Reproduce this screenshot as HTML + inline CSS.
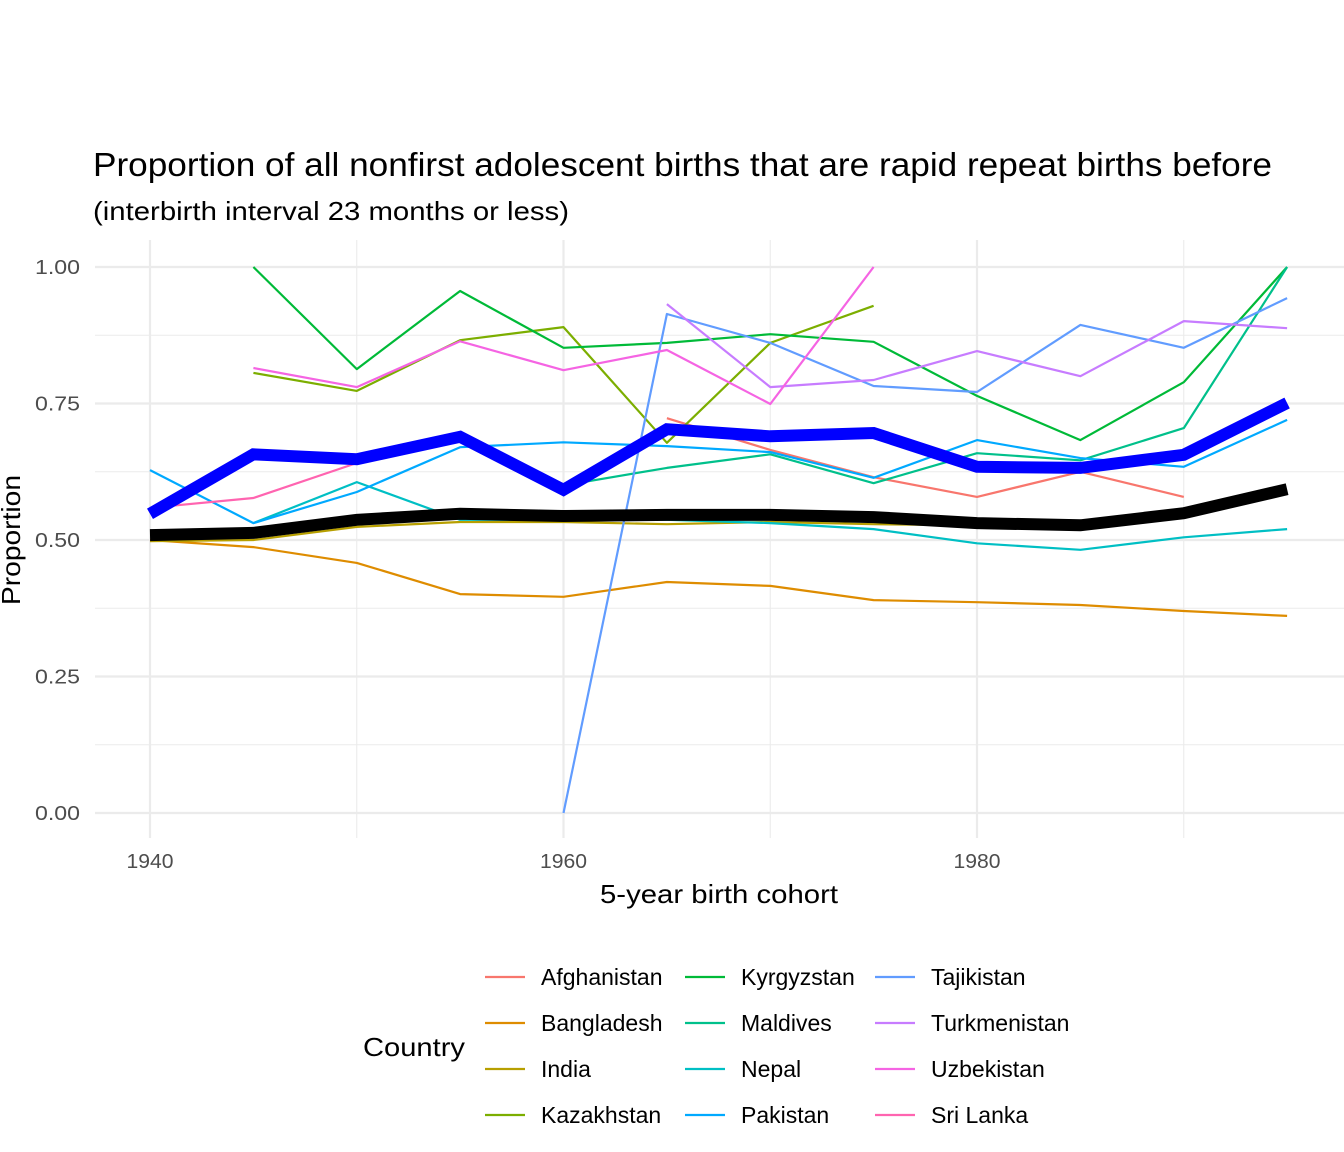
<!DOCTYPE html>
<html><head><meta charset="utf-8"><style>
body{margin:0;background:#fff;}
svg{display:block;font-family:"Liberation Sans",Arial,sans-serif;}
</style></head><body>
<svg id="chart" width="1344" height="1152">
<text x="93" y="176" font-size="33" textLength="1179" lengthAdjust="spacingAndGlyphs" fill="#000">Proportion of all nonfirst adolescent births that are rapid repeat births before</text>
<text x="93" y="220" font-size="26" textLength="476" lengthAdjust="spacingAndGlyphs" fill="#000">(interbirth interval 23 months or less)</text>
<g id="grid"></g>
<g id="series"></g>
<g id="axes"></g>
<text x="600" y="903" font-size="26" textLength="238" lengthAdjust="spacingAndGlyphs">5-year birth cohort</text>
<text transform="translate(20,605) rotate(-90)" font-size="26" textLength="130" lengthAdjust="spacingAndGlyphs">Proportion</text>
<g id="legend">
<text x="363" y="1056" font-size="26" textLength="102" lengthAdjust="spacingAndGlyphs">Country</text>
</g>
</svg>
<script>
const cohorts=[1940,1945,1950,1955,1960,1965,1970,1975,1980,1985,1990,1995];
const countries=["Afghanistan","Bangladesh","India","Kazakhstan","Kyrgyzstan","Maldives","Nepal","Pakistan","Tajikistan","Turkmenistan","Uzbekistan","Sri Lanka"];
const colors=["#F8766D","#DE8C00","#B79F00","#7CAE00","#00BA38","#00C08B","#00BFC4","#00A9FF","#619CFF","#C77CFF","#F564E3","#FF64B0"];
const afghanistan=[null,null,null,null,null,0.723,0.665,0.615,0.579,0.625,0.579,null];
const bangladesh=[0.500,0.487,0.458,0.401,0.396,0.423,0.416,0.390,0.386,0.381,0.370,0.361];
const india=[0.498,0.500,0.524,0.533,0.533,0.529,0.533,0.529,0.527,0.522,0.545,0.590];
const kazakhstan=[null,0.806,0.773,0.866,0.890,0.678,0.861,0.929,null,null,null,null];
const kyrgyzstan=[null,1.0,0.813,0.956,0.852,0.861,0.877,0.863,0.764,0.683,0.789,1.0];
const maldives=[null,null,null,null,0.600,0.632,0.657,0.604,0.659,0.646,0.705,1.0];
const nepal=[null,0.531,0.606,0.537,0.537,0.537,0.531,0.520,0.494,0.482,0.505,0.520];
const pakistan=[0.628,0.531,0.588,0.670,0.679,0.672,0.661,0.614,0.683,0.650,0.634,0.720];
const tajikistan=[null,null,null,null,0.0,0.914,0.861,0.782,0.771,0.894,0.852,0.943];
const turkmenistan=[null,null,null,null,null,0.932,0.780,0.793,0.846,0.800,0.901,0.888];
const uzbekistan=[null,0.815,0.780,0.864,0.811,0.848,0.749,1.0,null,null,null,null];
const srilanka=[0.559,0.577,0.641,null,null,null,null,null,null,null,null,null];
const regionMean=[0.548,0.657,0.648,0.689,0.592,0.703,0.690,0.696,0.634,0.632,0.656,0.751];
const overallMean=[0.509,0.513,0.537,0.548,0.544,0.546,0.546,0.542,0.531,0.527,0.549,0.593];
const yTicks=[0,0.25,0.5,0.75,1.0];
const yTickLabels=["0.00","0.25","0.50","0.75","1.00"];
const xTicks=[1940,1960,1980];
const xMinor=[1950,1970,1990];
const seriesData=[afghanistan,bangladesh,india,kazakhstan,kyrgyzstan,maldives,nepal,pakistan,tajikistan,turkmenistan,uzbekistan,srilanka];

const NS="http://www.w3.org/2000/svg";
const X=v=>150+(v-1940)*(977-150)/40;
const Y=v=>813-v*546;
function mk(tag,attrs,parent){const e=document.createElementNS(NS,tag);for(const k in attrs)e.setAttribute(k,attrs[k]);parent.appendChild(e);return e;}
const grid=document.getElementById('grid');
const L=95,R=1344,T=240,B=838;
yTicks.forEach((t,i)=>{
  if(i<yTicks.length-1){const m=(t+yTicks[i+1])/2;const g=mk('line',{x1:L,x2:R,y1:Y(m),y2:Y(m),stroke:'#EBEBEB','stroke-width':1.1},grid);
  
  }
  const l=mk('line',{x1:L,x2:R,y1:Y(t),y2:Y(t),stroke:'#EBEBEB','stroke-width':2.2},grid);
  
  
});
xMinor.forEach(t=>{const g=mk('line',{x1:X(t),x2:X(t),y1:T,y2:B,stroke:'#EBEBEB','stroke-width':1.1},grid);
  
  });
xTicks.forEach(t=>{const g=mk('line',{x1:X(t),x2:X(t),y1:T,y2:B,stroke:'#EBEBEB','stroke-width':2.2},grid);
  
  });
const axes=document.getElementById('axes');
yTicks.forEach((t,i)=>{const e=mk('text',{x:35,y:Y(t)+7,'font-size':20,fill:'#4D4D4D',textLength:45,lengthAdjust:'spacingAndGlyphs'},axes);e.textContent=yTickLabels[i];
  
  });
xTicks.forEach(t=>{const e=mk('text',{x:X(t)-23.5,y:868,'font-size':20,fill:'#4D4D4D',textLength:47,lengthAdjust:'spacingAndGlyphs'},axes);e.textContent=String(t);
  
  });
function pathFor(arr){let d='';let pen=false;arr.forEach((v,i)=>{if(v===null){pen=false;return;}d+=(pen?'L':'M')+X(cohorts[i]).toFixed(1)+','+Y(v).toFixed(1);pen=true;});return d;}
const sg=document.getElementById('series');
seriesData.forEach((arr,i)=>{const p=mk('path',{d:pathFor(arr),fill:'none',stroke:colors[i],'stroke-width':2.2,'stroke-linejoin':'round'},sg);
  
  });
const pm=mk('path',{d:pathFor(overallMean),fill:'none',stroke:'#000','stroke-width':12},sg);


const pr=mk('path',{d:pathFor(regionMean),fill:'none',stroke:'#0000FF','stroke-width':12},sg);


const lg=document.getElementById('legend');
const colX=[485,685,875];const rowY=[977,1023,1069,1115];
countries.forEach((c,i)=>{const col=Math.floor(i/4),row=i%4;
  const k=mk('line',{x1:colX[col],x2:colX[col]+40,y1:rowY[row],y2:rowY[row],stroke:colors[i],'stroke-width':2.2},lg);
  
  
  const t=mk('text',{x:colX[col]+56,y:rowY[row]+8,'font-size':23},lg);t.textContent=c;
  
  });
</script>
</body></html>
